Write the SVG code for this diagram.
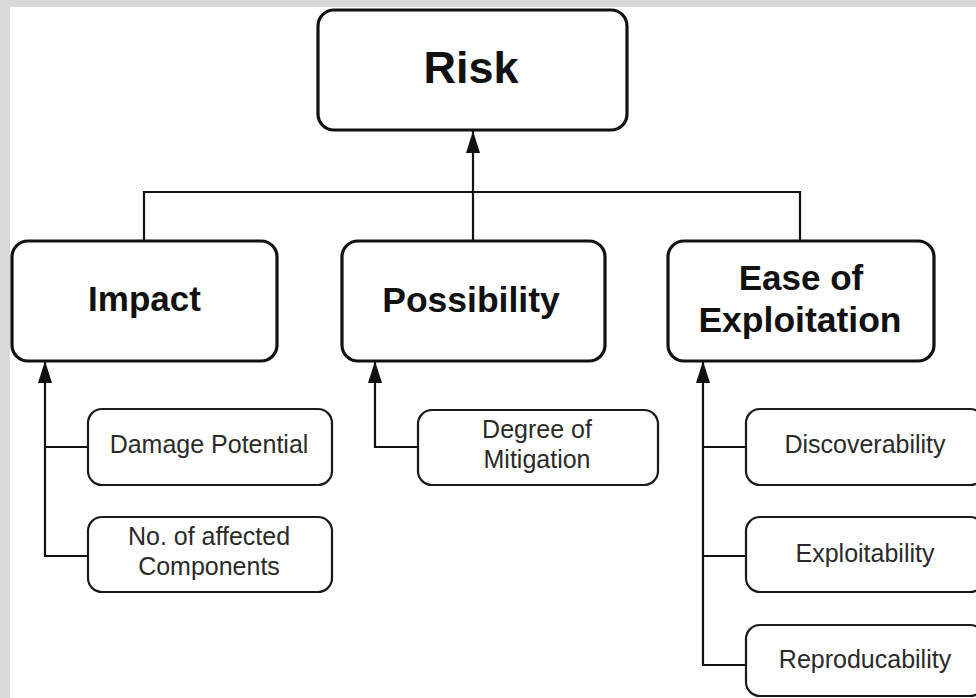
<svg xmlns="http://www.w3.org/2000/svg" width="976" height="698" viewBox="0 0 976 698">
  <style>
    .main { fill: #ffffff; stroke: #111111; stroke-width: 3.2; }
    .sub { fill: #ffffff; stroke: #1a1a1a; stroke-width: 2.2; }
    .conn { fill: none; stroke: #111111; stroke-width: 2.2; }
    .big { font-family: "Liberation Sans", Arial, sans-serif; font-weight: bold; fill: #111111; text-anchor: middle; }
    .small { font-family: "Liberation Sans", Arial, sans-serif; font-size: 25px; fill: #2a2a2a; text-anchor: middle; }
  </style>
  <defs>
    <marker id="arrow" markerUnits="userSpaceOnUse" markerWidth="22" markerHeight="14" refX="22" refY="7" orient="auto" viewBox="0 0 22 14">
      <path d="M0,0 L22,7 L0,14 Z" fill="#111111"/>
    </marker>
  </defs>
  <rect x="0" y="0" width="976" height="698" fill="#ffffff"/>
  <rect x="0" y="0" width="976" height="7" fill="#d9d9d9"/>
  <rect x="0" y="0" width="10" height="698" fill="#d9d9d9"/>

  <g id="connectors">
    <path class="conn" d="M473,241 V131" marker-end="url(#arrow)"/>
    <path class="conn" d="M144,241 V192 H800 V241"/>
    <path class="conn" d="M88,556 H45 V361" marker-end="url(#arrow)"/>
    <path class="conn" d="M45,447 H88"/>
    <path class="conn" d="M418,447 H375 V361" marker-end="url(#arrow)"/>
    <path class="conn" d="M746,665 H703 V361" marker-end="url(#arrow)"/>
    <path class="conn" d="M703,447 H746"/>
    <path class="conn" d="M703,556 H746"/>
  </g>

  <g id="risk">
    <rect class="main" x="318" y="10" width="309" height="120" rx="16"/>
    <text class="big" x="471" y="83" font-size="45">Risk</text>
  </g>
  <g id="impact">
    <rect class="main" x="12" y="241" width="265" height="120" rx="16"/>
    <text class="big" x="144.5" y="311" font-size="35">Impact</text>
  </g>
  <g id="possibility">
    <rect class="main" x="342" y="241" width="263" height="120" rx="16"/>
    <text class="big" x="471" y="312" font-size="35.5">Possibility</text>
  </g>
  <g id="ease">
    <rect class="main" x="668" y="241" width="266" height="120" rx="16"/>
    <text class="big" x="801" y="290" font-size="35">Ease of</text>
    <text class="big" x="800" y="332" font-size="35.5">Exploitation</text>
  </g>

  <g id="damage">
    <rect class="sub" x="88" y="409" width="244" height="76" rx="14"/>
    <text class="small" x="209" y="453">Damage Potential</text>
  </g>
  <g id="affected">
    <rect class="sub" x="88" y="517" width="244" height="75" rx="14"/>
    <text class="small" x="209" y="545">No. of affected</text>
    <text class="small" x="209" y="575">Components</text>
  </g>
  <g id="mitigation">
    <rect class="sub" x="418" y="410" width="240" height="75" rx="14"/>
    <text class="small" x="537" y="438">Degree of</text>
    <text class="small" x="537" y="468">Mitigation</text>
  </g>
  <g id="discoverability">
    <rect class="sub" x="746" y="409" width="238" height="76" rx="14"/>
    <text class="small" x="865" y="453">Discoverability</text>
  </g>
  <g id="exploitability">
    <rect class="sub" x="746" y="517" width="238" height="75" rx="14"/>
    <text class="small" x="865" y="562">Exploitability</text>
  </g>
  <g id="reproducability">
    <rect class="sub" x="746" y="625" width="238" height="71" rx="14"/>
    <text class="small" x="865" y="668">Reproducability</text>
  </g>
</svg>
